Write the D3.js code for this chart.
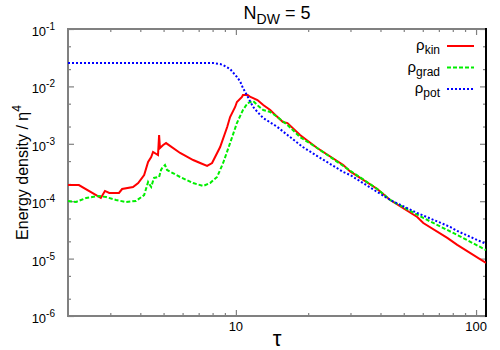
<!DOCTYPE html>
<html>
<head>
<meta charset="utf-8">
<script src="https://cdn.jsdelivr.net/npm/d3@7"></script>
<style>
  body { margin: 0; background: #fff; }
  text { font-family: "Liberation Sans", Arial, sans-serif; }
</style>
</head>
<body>
<div id="chart"></div>
<script>
// tau values and energy densities
const kinTau = [2.0, 2.22, 2.74, 2.85, 2.97, 3.26, 3.36, 3.73, 3.92, 4.15, 4.31, 4.44, 4.52, 4.74, 4.79, 4.83, 4.98, 5.12, 5.86, 6.64, 7.10, 7.59, 7.96, 8.60, 9.20, 9.46, 9.93, 10.1, 10.6, 10.7, 11.2, 11.5, 12.3, 13.0, 13.9, 14.6, 15.7, 16.4, 18.5, 21.8, 28.0, 29.9, 38.8, 43.9, 56.9, 60.3, 75.9, 83.5, 110]
const kinVal = [1.91e-4, 1.91e-4, 1.14e-4, 1.51e-4, 1.39e-4, 1.39e-4, 1.63e-4, 1.77e-4, 2.07e-4, 2.86e-4, 4.82e-4, 5.89e-4, 7.2e-4, 6.38e-4, 1.42e-3, 8.45e-4, 9.53e-4, 1.03e-3, 6.92e-4, 5.22e-4, 4.63e-4, 4.11e-4, 4.63e-4, 8.8e-4, 1.96e-3, 2.93e-3, 4.38e-3, 5.35e-3, 6.54e-3, 7.08e-3, 7.08e-3, 6.54e-3, 5.79e-3, 4.74e-3, 3.88e-3, 3.18e-3, 2.40e-3, 2.30e-3, 1.42e-3, 8.45e-4, 4.28e-4, 3.3e-4, 1.63e-4, 1.05e-4, 5.31e-5, 4.17e-5, 2.29e-5, 1.73e-5, 8.4e-6]

const gradTau = [2.0, 2.16, 2.38, 2.69, 2.88, 3.17, 3.49, 3.84, 4.15, 4.31, 4.44, 4.56, 4.79, 4.88, 4.93, 5.07, 5.17, 5.86, 6.64, 7.31, 7.81, 8.35, 8.85, 9.46, 10.1, 10.7, 11.2, 11.8, 12.4, 13.0, 13.9, 14.9, 16.4, 18.5, 21.8, 28.0, 38.8, 43.9, 60.3, 83.5, 110]
const gradVal = [1.01e-4, 9.68e-5, 1.14e-4, 1.23e-4, 1.18e-4, 1.05e-4, 9.68e-5, 1.01e-4, 1.28e-4, 2.16e-4, 1.77e-4, 2.54e-4, 2.64e-4, 3.5e-4, 3.79e-4, 4.28e-4, 3.5e-4, 2.64e-4, 2.07e-4, 1.84e-4, 2.07e-4, 2.64e-4, 4.63e-4, 1.03e-3, 2.30e-3, 3.88e-3, 5.14e-3, 5.57e-3, 4.56e-3, 3.88e-3, 3.58e-3, 2.93e-3, 2.13e-3, 1.31e-3, 8.45e-4, 4.11e-4, 1.63e-4, 1.05e-4, 5.1e-5, 2.58e-5, 1.41e-5]

const potTau = [2.0, 8.03, 8.60, 8.85, 9.46, 10.1, 10.4, 10.7, 11.1, 11.5, 11.8, 12.3, 13.0, 14.9, 16.4, 19.0, 21.8, 28.0, 29.9, 38.8, 43.9, 56.9, 78.1, 83.5, 110]
const potVal = [2.56e-2, 2.56e-2, 2.45e-2, 2.35e-2, 2.01e-2, 1.46e-2, 1.24e-2, 9.38e-3, 7.08e-3, 5.35e-3, 4.38e-3, 3.58e-3, 2.81e-3, 1.96e-3, 1.42e-3, 8.8e-4, 6.12e-4, 3.23e-4, 2.86e-4, 1.45e-4, 1.05e-4, 6.23e-5, 3.56e-5, 3.03e-5, 1.8e-5]

const xMajor = [10, 100]
const xMinor = [3, 4, 5, 6, 7, 8, 9, 20, 30, 40, 50, 60, 70, 80, 90]
const yMajor = [1e-1, 1e-2, 1e-3, 1e-4, 1e-5, 1e-6]
const yExp = ['-1', '-2', '-3', '-4', '-5', '-6']
const yMinor = [5e-2, 2e-2, 5e-3, 2e-3, 5e-4, 2e-4, 5e-5, 2e-5, 5e-6, 2e-6]

const series = [
  { sub: 'kin', tau: kinTau, val: kinVal, color: '#ff0000', dash: null },
  { sub: 'grad', tau: gradTau, val: gradVal, color: '#00ee00', dash: '4,2' },
  { sub: 'pot', tau: potTau, val: potVal, color: '#0000ff', dash: '2,2' }
]

const width = 500, height = 350
const margins = { top: 29, right: 14, bottom: 34, left: 68 }
const axisGrey = '#808080'

const svg = d3.select('#chart').append('svg')
  .attr('width', width)
  .attr('height', height)

const x = d3.scaleLog().domain([2, 110]).range([margins.left, width - margins.right])
const y = d3.scaleLog().domain([1e-6, 1e-1]).range([height - margins.bottom, margins.top])

svg.append('clipPath').attr('id', 'plot')
  .append('rect')
  .attr('x', margins.left).attr('y', margins.top)
  .attr('width', width - margins.left - margins.right)
  .attr('height', height - margins.top - margins.bottom)

// ticks, pointing inward like gnuplot
function ticks(axis, values, size, pos) {
  svg.append('g')
    .attr('transform', pos)
    .call(axis.tickValues(values).tickSize(size).tickFormat(''))
    .call(g => g.select('.domain').remove())
    .call(g => g.selectAll('line').attr('stroke', axisGrey).attr('stroke-width', 1.2))
}
const bottomY = height - margins.bottom
ticks(d3.axisBottom(x), xMajor, -6, `translate(0,${bottomY})`)
ticks(d3.axisBottom(x), xMinor, -3, `translate(0,${bottomY})`)
ticks(d3.axisTop(x), xMajor, -6, `translate(0,${margins.top})`)
ticks(d3.axisTop(x), xMinor, -3, `translate(0,${margins.top})`)
ticks(d3.axisLeft(y), yMajor, -6, `translate(${margins.left},0)`)
ticks(d3.axisLeft(y), yMinor, -3, `translate(${margins.left},0)`)
ticks(d3.axisRight(y), yMajor, -6, `translate(${width - margins.right},0)`)
ticks(d3.axisRight(y), yMinor, -3, `translate(${width - margins.right},0)`)

// border
const x0 = margins.left, x1 = width - margins.right
const y0 = margins.top, y1 = height - margins.bottom
svg.append('path')
  .attr('d', `M${x1},${y0}H${x0}V${y1}H${x1}`)
  .attr('fill', 'none').attr('stroke', axisGrey).attr('stroke-width', 2)
svg.append('line')
  .attr('x1', x1).attr('x2', x1).attr('y1', y0 - 1).attr('y2', y1 + 1)
  .attr('stroke', '#000').attr('stroke-width', 2)

// tick labels
yMajor.forEach((v, i) => {
  const t = svg.append('text')
    .attr('x', margins.left - 13)
    .attr('y', y(v) + 7)
    .attr('text-anchor', 'end')
    .attr('font-size', 13)
  t.append('tspan').text('10')
  t.append('tspan').attr('dy', -6).attr('font-size', 10).text(yExp[i])
})
xMajor.forEach(v => {
  svg.append('text')
    .attr('x', x(v))
    .attr('y', bottomY + 15)
    .attr('text-anchor', 'middle')
    .attr('font-size', 13)
    .text(v)
})

// curves
const line = d3.line()
  .x(d => x(d[0]))
  .y(d => y(d[1]))

series.forEach(s => {
  svg.append('path')
    .datum(d3.zip(s.tau, s.val))
    .attr('clip-path', 'url(#plot)')
    .attr('d', line)
    .attr('fill', 'none')
    .attr('stroke', s.color)
    .attr('stroke-width', 2)
    .attr('stroke-dasharray', s.dash)
})

// legend
series.forEach((s, i) => {
  const ly = 46 + i * 21.5
  const t = svg.append('text')
    .attr('x', 440)
    .attr('y', ly + 4)
    .attr('text-anchor', 'end')
    .attr('font-size', 15)
  t.append('tspan').text('ρ')
  t.append('tspan').attr('dy', 4).attr('font-size', 12).text(s.sub)
  svg.append('line')
    .attr('x1', 447).attr('x2', 474)
    .attr('y1', ly).attr('y2', ly)
    .attr('stroke', s.color)
    .attr('stroke-width', 2)
    .attr('stroke-dasharray', s.dash)
})

// title
const title = svg.append('text')
  .attr('x', (x0 + x1) / 2)
  .attr('y', 19)
  .attr('text-anchor', 'middle')
  .attr('font-size', 18)
title.append('tspan').text('N')
title.append('tspan').attr('dy', 5).attr('font-size', 14).text('DW')
title.append('tspan').attr('dy', -5).text(' = 5')

// axis labels
const yl = svg.append('text')
  .attr('transform', `translate(28,${(y0 + y1) / 2}) rotate(-90)`)
  .attr('text-anchor', 'middle')
  .attr('font-size', 16)
yl.append('tspan').text('Energy density / η')
yl.append('tspan').attr('dy', -7).attr('font-size', 12).text('4')

svg.append('text')
  .attr('x', (x0 + x1) / 2)
  .attr('y', 346)
  .attr('text-anchor', 'middle')
  .attr('font-size', 22)
  .attr('font-family', '"DejaVu Serif", serif')
  .text('τ')
</script>
</body>
</html>
